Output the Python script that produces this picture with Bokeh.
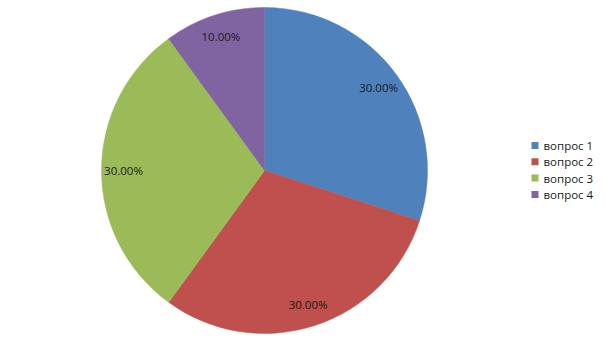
import numpy as np
from bokeh.plotting import figure
from bokeh.models import Range1d, ColumnDataSource
from bokeh.core.properties import value
from bokeh.embed import file_html
from bokeh.resources import INLINE

categories = ["вопрос 1", "вопрос 2", "вопрос 3", "вопрос 4"]
shares = [30.0, 30.0, 30.0, 10.0]
colors = ["#4F81BD", "#C0504D", "#9BBB59", "#8064A2"]

W, H = 605, 340
cx, cy, R = 264, 170, 163

p = figure(width=W, height=H, output_backend="svg", toolbar_location=None,
           x_range=Range1d(0, W), y_range=Range1d(0, H), min_border=0)
p.axis.visible = False
p.grid.visible = False
p.outline_line_color = None
p.background_fill_color = "white"
p.border_fill_color = "white"

vals = np.array(shares)
frac = vals / vals.sum()
ends = np.pi / 2 - 2 * np.pi * np.cumsum(frac)
starts = np.concatenate([[np.pi / 2], ends[:-1]])
mids = (starts + ends) / 2

src = ColumnDataSource(dict(start=starts, end=ends, color=colors, cat=categories))
p.wedge(x=cx, y=cy, radius=R, start_angle="start", end_angle="end",
        direction="clock", fill_color="color", line_color="color", line_width=0.5, source=src)

lr = 141
labels = ["%.2f%%" % v for v in shares]
p.text(x=cx + lr * np.cos(mids), y=cy + lr * np.sin(mids), text=labels,
       text_font=value("Open Sans"), text_font_size="11.5px", text_color="#1a1a1a",
       text_align="center", text_baseline="middle")

# legend
ly = [H - 145, H - 161.3, H - 177.6, H - 194]
p.rect(x=[534.5] * 4, y=ly, width=7, height=7, fill_color=colors, line_color=None)
p.text(x=[543] * 4, y=ly, text=categories, text_font=value("Open Sans"),
       text_font_size="11.5px", text_color="#1a1a1a", text_align="left", text_baseline="middle")

open("out.html", "w").write(file_html(p, INLINE))
